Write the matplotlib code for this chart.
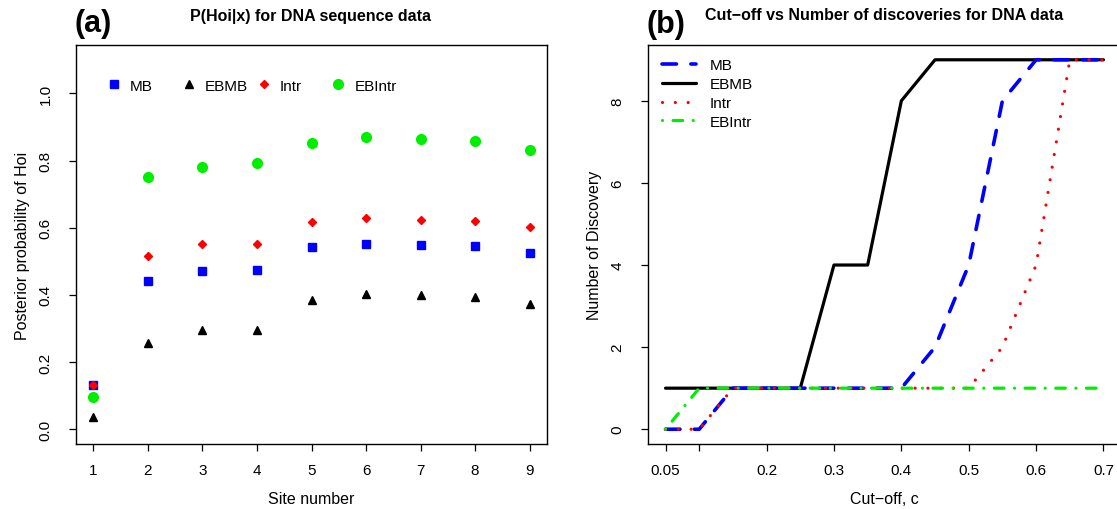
import numpy as np
import matplotlib.pyplot as plt

plt.rcParams['font.family'] = ['Liberation Sans', 'DejaVu Sans']

# ============================
# Data
# ============================

sites = [1, 2, 3, 4, 5, 6, 7, 8, 9]
p_mb = [0.132, 0.441, 0.471, 0.474, 0.543, 0.551, 0.549, 0.546, 0.525]
p_ebmb = [0.036, 0.256, 0.295, 0.294, 0.384, 0.404, 0.399, 0.393, 0.374]
p_intr = [0.132, 0.517, 0.551, 0.551, 0.616, 0.629, 0.623, 0.621, 0.603]
p_ebintr = [0.095, 0.750, 0.782, 0.792, 0.852, 0.871, 0.863, 0.859, 0.831]

cutoff = [0.05, 0.10, 0.15, 0.20, 0.25, 0.30, 0.35,
          0.40, 0.45, 0.50, 0.55, 0.60, 0.65, 0.70]
n_mb = [0, 0, 1, 1, 1, 1, 1, 1, 2, 4, 8, 9, 9, 9]
n_ebmb = [1, 1, 1, 1, 1, 4, 4, 8, 9, 9, 9, 9, 9, 9]
n_intr = [0, 0, 1, 1, 1, 1, 1, 1, 1, 1, 2, 4, 9, 9]
n_ebintr = [0, 1, 1, 1, 1, 1, 1, 1, 1, 1, 1, 1, 1, 1]

labels = ["MB", "EBMB", "Intr", "EBIntr"]

W, H = 1117, 510
fig = plt.figure(figsize=(W / 100, H / 100), dpi=100)


def px_axes(left, right, top, bottom):
    return fig.add_axes([left / W, 1 - bottom / H, (right - left) / W, (bottom - top) / H])


def style_axes(ax):
    for s in ax.spines.values():
        s.set_linewidth(1.0)
        s.set_color("black")
    ax.tick_params(direction="out", length=5, width=0.9, labelsize=11,
                   top=False, right=False)
    ax.tick_params(axis="x", pad=8.6)
    ax.tick_params(axis="y", pad=12)
    for lab in ax.get_yticklabels():
        lab.set_rotation(90)
        lab.set_va("center")


# ============================
# Panel (a)
# ============================

ax1 = px_axes(76, 547, 46, 445)

h1, = ax1.plot(sites, p_mb, ls="none", marker="s", ms=5.2, color="blue")
h2, = ax1.plot(sites, p_ebmb, ls="none", marker="^", ms=6, color="black")
h3, = ax1.plot(sites, p_intr, ls="none", marker="D", ms=3.6, color="red")
h4, = ax1.plot(sites, p_ebintr, ls="none", marker="o", ms=7, color="#00ee00")

ax1.set_xlim(0.68, 9.32)
ax1.set_ylim(-0.044, 1.144)
ax1.set_xticks(sites)
ax1.set_yticks([0.0, 0.2, 0.4, 0.6, 0.8, 1.0])
ax1.set_yticklabels(["0.0", "0.2", "0.4", "0.6", "0.8", "1.0"])
style_axes(ax1)
ax1.set_xlabel("Site number", fontsize=11.5, labelpad=10)
ax1.set_ylabel("Posterior probability of Hoi", fontsize=11.5, labelpad=6)

# horizontal legend with equal column widths
x0, dx = 0.0648, 0.1586
for i, (h, lab) in enumerate(zip([h1, h2, h3, h4], labels)):
    leg = ax1.legend([h], [lab], loc="center left",
                     bbox_to_anchor=(x0 + i * dx, 0.898),
                     frameon=False, handlelength=1, handletextpad=0.55,
                     borderpad=0, borderaxespad=0, fontsize=11)
    ax1.add_artist(leg)
ax1.legend_ = None

fig.text(311 / W, 1 - 16 / H, "P(Hoi|x) for DNA sequence data",
         ha="center", va="center", fontsize=11.5, fontweight="bold")
fig.text(74 / W, 1 - 24 / H, "(a)", ha="left", va="center",
         fontsize=22, fontweight="bold")


# ============================
# Panel (b)
# ============================

ax2 = px_axes(648, 1121, 46, 445)

ax2.plot(cutoff, n_ebmb, color="black", lw=2.3, solid_capstyle="round",
         label="EBMB", zorder=2)
ax2.plot(cutoff, n_mb, color="blue", lw=2.6, dashes=(4, 4),
         dash_capstyle="round", label="MB", zorder=3)
ax2.plot(cutoff, n_intr, color="red", lw=2.3, dashes=(0.01, 4),
         dash_capstyle="round", label="Intr", zorder=4)
ax2.plot(cutoff, n_ebintr, color="#00ee00", lw=2.3, dashes=(0.01, 3.3, 3, 3.3),
         dash_capstyle="round", label="EBIntr", zorder=5)

ax2.set_xlim(0.05 - 0.026, 0.7 + 0.026)
ax2.set_ylim(-0.36, 9.36)
ax2.set_xticks([0.05, 0.1, 0.2, 0.3, 0.4, 0.5, 0.6, 0.7])
ax2.set_xticklabels(["0.05", "", "0.2", "0.3", "0.4", "0.5", "0.6", "0.7"])
ax2.set_yticks([0, 2, 4, 6, 8])
style_axes(ax2)
ax2.set_xlabel("Cut\u2212off, c", fontsize=11.5, labelpad=10)
ax2.set_ylabel("Number of Discovery", fontsize=11.5, labelpad=6)

hd, ld = ax2.get_legend_handles_labels()
order = [ld.index(l) for l in labels]
ax2.legend([hd[i] for i in order], labels, loc="upper left",
           bbox_to_anchor=(0.03, 0.967), frameon=False, fontsize=11,
           handlelength=2.2, handletextpad=0.9, labelspacing=0.32,
           borderpad=0, borderaxespad=0)

fig.text(884 / W, 1 - 16 / H, "Cut\u2212off vs Number of discoveries for DNA data",
         ha="center", va="center", fontsize=11.5, fontweight="bold")
fig.text(647 / W, 1 - 25 / H, "(b)", ha="left", va="center",
         fontsize=22, fontweight="bold")

plt.savefig("out.png", dpi=100)
